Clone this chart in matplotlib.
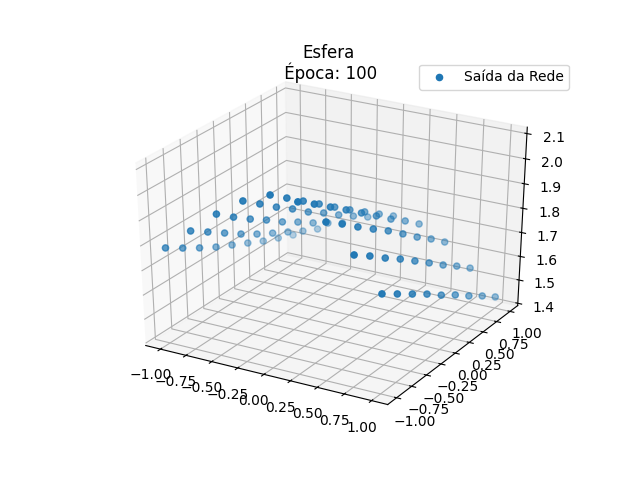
import numpy as np
import matplotlib
matplotlib.use("Agg")
import matplotlib.pyplot as plt

# grid of inputs and the network output
x_grid = [-1.0, -0.75, -0.5, -0.25, 0.0, 0.25, 0.5, 0.75, 1.0]
y_grid = [-1.0, -0.75, -0.5, -0.25, 0.0, 0.25, 0.5, 0.75, 1.0]
z_rows = [
    [1.783, 1.742, 1.702, 1.665, 1.633, 1.601, 1.569, 1.542, 1.515],
    [1.874, 1.830, 1.786, 1.742, 1.702, 1.666, 1.631, 1.595, 1.564],
    [1.963, 1.912, 1.865, 1.822, 1.775, 1.735, 1.692, 1.652, 1.613],
    [2.036, 1.986, 1.935, 1.889, 1.838, 1.795, 1.748, 1.704, 1.661],
    [2.081, 2.031, 1.981, 1.931, 1.880, 1.830, 1.783, 1.735, 1.688],
    [2.077, 2.030, 1.980, 1.930, 1.879, 1.828, 1.776, 1.729, 1.677],
    [2.023, 1.976, 1.925, 1.877, 1.830, 1.778, 1.725, 1.677, 1.624],
    [1.920, 1.875, 1.826, 1.781, 1.732, 1.683, 1.633, 1.587, 1.537],
    [1.793, 1.750, 1.707, 1.664, 1.617, 1.575, 1.528, 1.485, 1.438],
]
xy_ticks = [-1.0, -0.75, -0.5, -0.25, 0.0, 0.25, 0.5, 0.75, 1.0]
z_ticks = [1.4, 1.5, 1.6, 1.7, 1.8, 1.9, 2.0, 2.1]

fig = plt.figure()
ax = fig.add_subplot(projection='3d')

# the reference stretches the cube over the whole axes box, like old matplotlib
ax.apply_aspect = lambda position=None: None
ax.set_position([0.125, 0.11, 0.775, 0.77])
ax.set_box_aspect((1, 1, 1), zoom=np.sqrt(3) / 1.8294640721620434)

xx, yy = np.meshgrid(x_grid, y_grid, indexing='ij')
ax.scatter(xx.ravel(), yy.ravel(), np.array(z_rows).ravel(), label='Saída da Rede')

ax.set_xlim(-1.1458, 1.1458)
ax.set_ylim(-1.1458, 1.1458)
ax.set_zlim(1.39, 2.125)
ax.set_xticks(xy_ticks)
ax.set_yticks(xy_ticks)
ax.set_zticks(z_ticks)

ax.set_title("Esfera\n Época: 100", y=1.0, linespacing=1.0)
ax.legend()

fig.savefig("out.png", dpi=100)
